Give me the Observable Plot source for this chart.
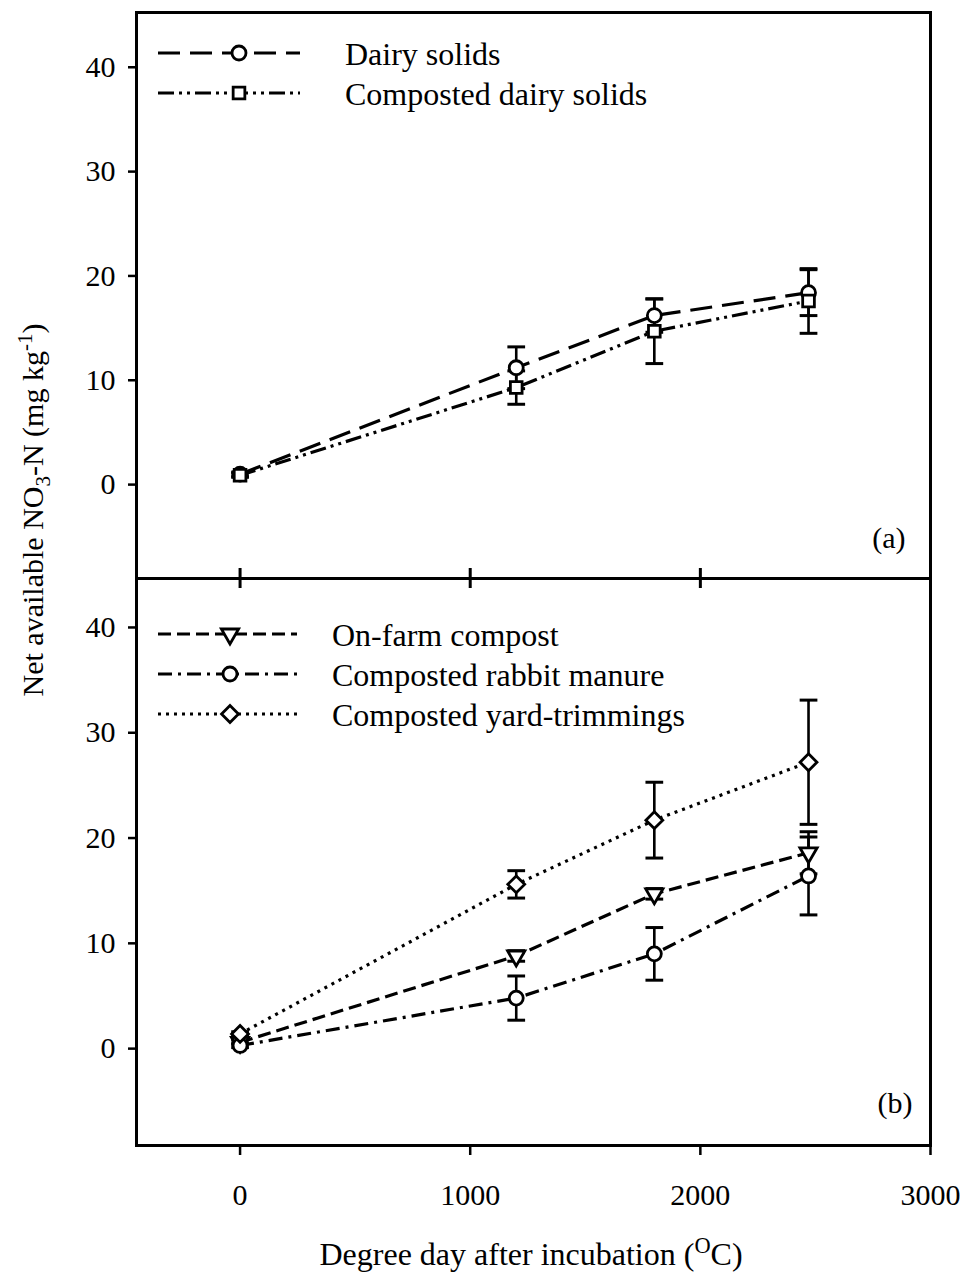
<!DOCTYPE html>
<html>
<head>
<meta charset="utf-8">
<script src="https://cdn.jsdelivr.net/npm/d3@7"></script>
<script src="https://cdn.jsdelivr.net/npm/@observablehq/plot@0.6"></script>
<style>
  html, body { margin: 0; padding: 0; background: #fff; }
  #wrap { position: relative; width: 964px; height: 1279px; font-family: "Liberation Serif", "Times New Roman", serif; color: #000; overflow: hidden; }
  #wrap svg { position: absolute; left: 0; overflow: visible; }
  .ylab { position: absolute; width: 440px; height: 40px; line-height: 40px; text-align: center; font-size: 30px; transform: rotate(-90deg); white-space: nowrap; }
  .xlab { position: absolute; width: 640px; height: 40px; line-height: 40px; text-align: center; font-size: 32px; white-space: nowrap; }
  sub, sup { line-height: 0; font-size: 70%; }
</style>
</head>
<body>
<div id="wrap"></div>
<script>
// ---------- data ----------
const degreeDays = [0, 1200, 1800, 2470];

// panel (a)
const dairySolids      = [1.0, 11.2, 16.2, 18.4];
const dairySolidsErr   = [0.2, 2.0, 1.6, 2.2];
const compDairy        = [0.9, 9.3, 14.7, 17.6];
const compDairyErr     = [0.2, 1.6, 3.1, 3.1];

// panel (b)
const onFarm           = [0.6, 8.8, 14.7, 18.6];
const onFarmErr        = [0.2, 0.5, 0.5, 2.0];
const rabbit           = [0.3, 4.8, 9.0, 16.4];
const rabbitErr        = [0.2, 2.1, 2.5, 3.7];
const yard             = [1.4, 15.6, 21.7, 27.2];
const yardErr          = [0.2, 1.3, 3.6, 5.9];

const xTicks = [0, 1000, 2000, 3000];
const yTicks = [0, 10, 20, 30, 40];

const namesA = ["Dairy solids", "Composted dairy solids"];
const namesB = ["On-farm compost", "Composted rabbit manure", "Composted yard-trimmings"];

// ---------- styles ----------
const styles = {
  "Dairy solids":            {symbol: "circle",   r: 7,   rotate: 0,   dash: "22,10"},
  "Composted dairy solids":  {symbol: "square",   r: 6.6, rotate: 0,   dash: "16,5,3,5,3,5"},
  "On-farm compost":         {symbol: "triangle", r: 6.4, rotate: 180, dash: "13,6"},
  "Composted rabbit manure": {symbol: "circle",   r: 7,   rotate: 0,   dash: "14,6,3,6"},
  "Composted yard-trimmings":{symbol: "diamond2", r: 7.6, rotate: 0,   dash: "3,5"}
};
const symbolMap = {circle: d3.symbolCircle, square: d3.symbolSquare, triangle: d3.symbolTriangle, diamond2: d3.symbolDiamond2};

function rows(name, vals, errs) {
  return degreeDays.map((x, i) => ({series: name, x, y: vals[i], e: errs[i]}));
}
const dataA = [rows(namesA[0], dairySolids, dairySolidsErr), rows(namesA[1], compDairy, compDairyErr)];
const dataB = [rows(namesB[0], onFarm, onFarmErr), rows(namesB[1], rabbit, rabbitErr), rows(namesB[2], yard, yardErr)];

// horizontal cap symbol for error bars
const capSymbol = { draw(ctx, size) { const w = Math.sqrt(size); ctx.moveTo(-w, 0); ctx.lineTo(w, 0); } };

function seriesMarks(data) {
  const lines = [], bars = [], dots = [];
  for (const d of data) {
    const s = styles[d[0].series];
    lines.push(Plot.line(d, {x: "x", y: "y", stroke: "black", strokeWidth: 3.2, strokeDasharray: s.dash, strokeLinecap: "butt"}));
    bars.push(Plot.ruleX(d, {x: "x", y1: r => r.y - r.e, y2: r => r.y + r.e, stroke: "black", strokeWidth: 2.6}));
    bars.push(Plot.dot(d, {x: "x", y: r => r.y + r.e, symbol: capSymbol, r: 5, stroke: "black", fill: "none", strokeWidth: 3}));
    bars.push(Plot.dot(d, {x: "x", y: r => r.y - r.e, symbol: capSymbol, r: 5, stroke: "black", fill: "none", strokeWidth: 3}));
    dots.push(Plot.dot(d, {x: "x", y: "y", symbol: s.symbol, r: s.r, rotate: s.rotate, stroke: "black", fill: "white", strokeWidth: 2.8}));
  }
  return [...lines, ...bars, ...dots];
}

const font = "'Liberation Serif', 'Times New Roman', serif";
const common = {
  width: 964, marginLeft: 136, marginRight: 34,
  style: {fontFamily: font, fontSize: "30px", color: "black", background: "transparent", overflow: "visible"}
};

const yAxis = () => Plot.axisY(yTicks, {tickSize: 8, tickPadding: 13, strokeWidth: 2.5, fontSize: 30, label: null, tickFormat: d => String(d)});

// ---------- panel (a) ----------
const svgA = Plot.plot({
  ...common,
  height: 580, marginTop: 12, marginBottom: 2,
  x: {domain: [-450, 3000], axis: null},
  y: {domain: [-9.0, 45.25]},
  marks: [
    yAxis(),
    Plot.tickX(xTicks.slice(0, 3), {x: d => d, insetTop: 556, stroke: "black", strokeWidth: 3}),
    ...seriesMarks(dataA),
    Plot.text(["(a)"], {frameAnchor: "bottom-right", dx: -25, dy: -31, textAnchor: "end", fontSize: 30, fill: "black"}),
    Plot.frame({stroke: "black", strokeWidth: 3})
  ]
});
svgA.style.top = "0px";

// ---------- panel (b) ----------
const svgB = Plot.plot({
  ...common,
  height: 703, marginTop: 2, marginBottom: 134,
  x: {domain: [-450, 3000]},
  y: {domain: [-9.2, 44.65]},
  marks: [
    yAxis(),
    Plot.axisX(xTicks, {tickSize: 10, tickPadding: 28, strokeWidth: 2.5, fontSize: 30, label: null, tickFormat: d => String(d)}),
    Plot.tickX(xTicks.slice(0, 3), {x: d => d, insetBottom: 557, stroke: "black", strokeWidth: 3}),
    ...seriesMarks(dataB),
    Plot.text(["(b)"], {frameAnchor: "bottom-right", dx: -18, dy: -33, textAnchor: "end", fontSize: 30, fill: "black"}),
    Plot.frame({stroke: "black", strokeWidth: 3})
  ]
});
svgB.style.top = "576px";

const wrap = document.getElementById("wrap");
wrap.appendChild(svgA);
wrap.appendChild(svgB);

// ---------- legends ----------
function legend(svg, names, layout) {
  const g = d3.select(svg).append("g").attr("text-anchor", "start");
  names.forEach((name, i) => {
    const s = styles[name];
    const y = layout.y0 + i * layout.dy;
    g.append("line").attr("x1", layout.x1).attr("x2", layout.x2).attr("y1", y).attr("y2", y)
      .attr("stroke", "black").attr("stroke-width", 3.2).attr("stroke-dasharray", s.dash);
    g.append("path")
      .attr("d", d3.symbol(symbolMap[s.symbol], Math.PI * s.r * s.r)())
      .attr("transform", `translate(${layout.xm},${y}) rotate(${s.rotate})`)
      .attr("fill", "white").attr("stroke", "black").attr("stroke-width", 2.8);
    g.append("text").attr("x", layout.xt).attr("y", y).attr("dy", "0.36em")
      .attr("text-anchor", "start")
      .attr("font-family", font).attr("font-size", 32).attr("fill", "black").text(name);
  });
}
legend(svgA, namesA, {x1: 158, x2: 300, xm: 239, xt: 345, y0: 53, dy: 40});
legend(svgB, namesB, {x1: 158, x2: 297, xm: 230, xt: 332, y0: 58, dy: 40});

// ---------- axis titles ----------
const yl = document.createElement("div");
yl.className = "ylab";
yl.style.left = (33 - 220) + "px";
yl.style.top = (510 - 20) + "px";
yl.innerHTML = "Net available NO<sub>3</sub>-N (mg kg<sup>-1</sup>)";
wrap.appendChild(yl);

const xl = document.createElement("div");
xl.className = "xlab";
xl.style.left = (531 - 320) + "px";
xl.style.top = "1234px";
xl.innerHTML = "Degree day after incubation (<sup>O</sup>C)";
wrap.appendChild(xl);
</script>
</body>
</html>
